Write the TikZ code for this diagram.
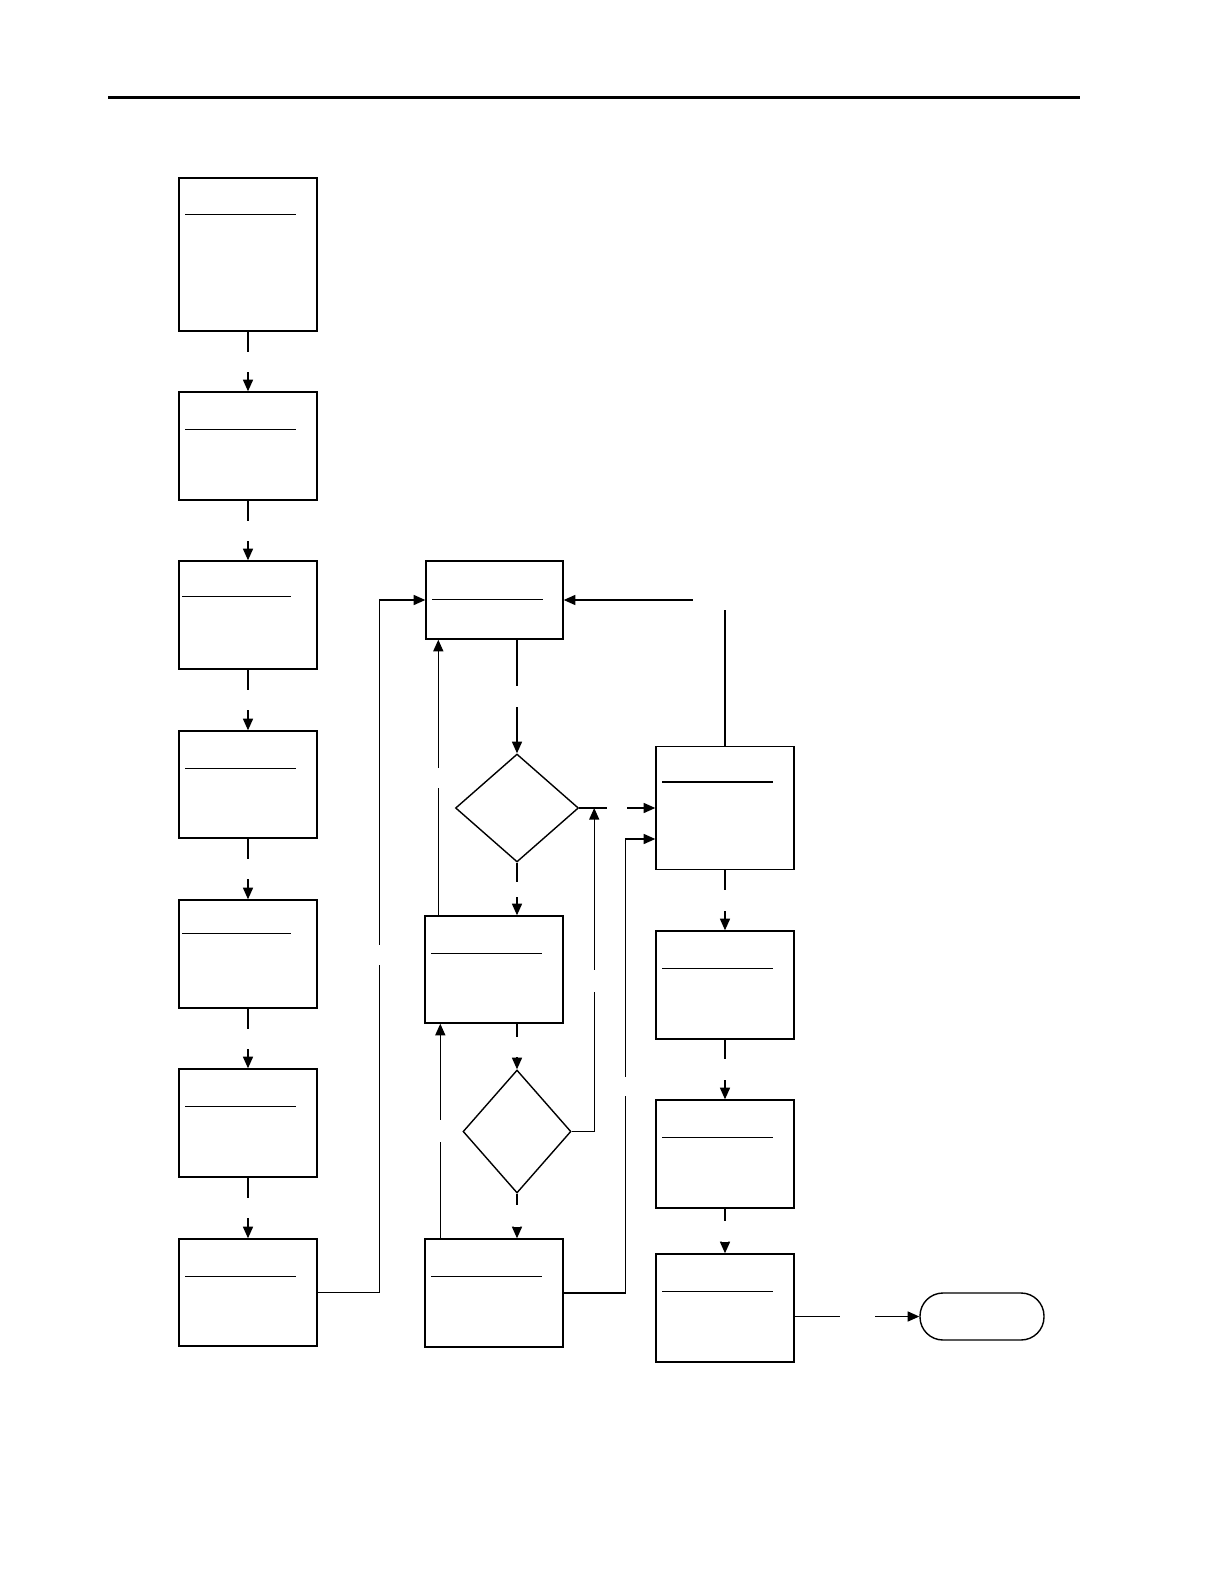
\documentclass[tikz,border=0pt]{standalone}
\usetikzlibrary{arrows.meta,shapes.geometric,calc}
\begin{document}
\begin{tikzpicture}[x=0.5pt,y=-0.5pt]
\tikzset{
 box/.style={draw, rectangle, line width=0.7pt, minimum width=69pt, inner sep=0pt},
 dia/.style={draw, diamond, line width=0.7pt, inner sep=0pt},
 term/.style={draw, rectangle, rounded corners=11.5pt, minimum width=62pt, minimum height=23.5pt, line width=0.7pt, inner sep=0pt},
 arr/.style={line width=0.7pt, -{Triangle[length=5.8pt,width=5pt]}},
 vgap/.style={fill=white, inner sep=0pt, minimum width=3pt, minimum height=#1},
 hgap/.style={fill=white, inner sep=0pt, minimum height=3pt, minimum width=#1},
 cgap/.style={fill=white, inner sep=0pt, minimum width=32pt, minimum height=10pt},
 rulex/.style={line width=0.7pt},
}
\useasboundingbox (0,0) rectangle (1224,1584);
% header rule
\draw[line width=1.5pt] (108,98) -- (1080,98);

% left column
\node[box, minimum height=76.5pt] (b1) at (248,254.5) {};
\node[box, minimum height=54pt] (b2) at (248,446) {};
\node[box, minimum height=54pt] (b3) at (248,615) {};
\node[box, minimum height=53.5pt] (b4) at (248,784.5) {};
\node[box, minimum height=54pt] (b5) at (248,954) {};
\node[box, minimum height=54pt] (b6) at (248,1123) {};
\node[box, minimum height=53.5pt] (b7) at (248,1292.5) {};

% middle column
\node[box, minimum width=68.5pt, minimum height=39pt] (A) at (494.5,600) {};
\node[dia, minimum width=61.5pt, minimum height=54pt] (D1) at (517,808) {};
\node[box, minimum height=53.5pt] (B1) at (494,969.5) {};
\node[dia, minimum width=54pt, minimum height=61.5pt] (D2) at (517,1131.5) {};
\node[box, minimum height=54pt] (B3) at (494,1293) {};

% right column
\node[box, minimum height=61.5pt] (C) at (725,808) {};
\node[box, minimum height=54pt] (E1) at (725,985) {};
\node[box, minimum height=54pt] (E2) at (725,1154) {};
\node[box, minimum height=54pt] (E3) at (725,1308) {};
\node[term] (T) at (982,1316.5) {};

% title rules inside boxes
\foreach \n/\a/\b/\d in {b1/7/118/37, b2/7/118/38, b3/4/113/36, b4/7/118/38, b5/4/113/34, b6/7/118/38, b7/7/118/38, A/7/118/39, B1/7/118/38, B3/7/118/38, C/7/118/36, E1/7/118/38, E2/7/118/38, E3/7/118/38}
  \draw[rulex] ([shift={(\a,\d)}]\n.north west) -- ([shift={(\b,\d)}]\n.north west);

% left column connectors
\foreach \p/\q in {b1/b2, b2/b3, b3/b4, b4/b5, b5/b6, b6/b7}
  \draw[arr] (\p) -- node[vgap=10pt]{} (\q);

% left column to A
\draw[arr] (b7.east) -| node[pos=0.744, vgap=10pt]{} ([xshift=-23pt]A.west) -- (A.west);

% middle column connectors
\draw[arr] (D1.north |- A.south) -- node[vgap=10.5pt]{} (D1.north);
\draw[arr] (D1.south) -- node[vgap=7.5pt]{} (D1.south |- B1.north);
\draw[arr] (D2.north |- B1.south) -- node[vgap=10pt]{} (D2.north);
\draw[arr] (D2.south) -- node[vgap=11pt]{} (D2.south |- B3.north);
\coordinate (u1) at ([xshift=7pt]B1.north west);
\draw[arr] (u1) -- node[vgap=10pt]{} (u1 |- A.south);
\coordinate (u2) at ([xshift=8pt]B3.north west);
\draw[arr] (u2) -- node[vgap=11pt]{} (u2 |- B1.south);

% to right column
\draw[arr] (D1.east) -- node[hgap=10pt]{} (C.west);
\coordinate (j1) at ([xshift=7.5pt]D1.east);
\draw[arr] (D2.east) -| node[pos=0.733, vgap=11pt]{} (j1);
\coordinate (c2) at ([yshift=-15.5pt]C.west);
\draw[arr] (B3.east) -| node[pos=0.727, vgap=9.5pt]{} ([xshift=-15pt]c2) -- (c2);
\draw[arr] (C.north) |- node[pos=0.5, cgap]{} (A.east);

% right column connectors
\foreach \p/\q in {C/E1, E1/E2, E2/E3}
  \draw[arr] (\p) -- node[vgap=10.5pt]{} (\q);
\draw[arr] (E3.east |- T.west) -- node[hgap=17.5pt]{} (T.west);
\end{tikzpicture}
\end{document}
